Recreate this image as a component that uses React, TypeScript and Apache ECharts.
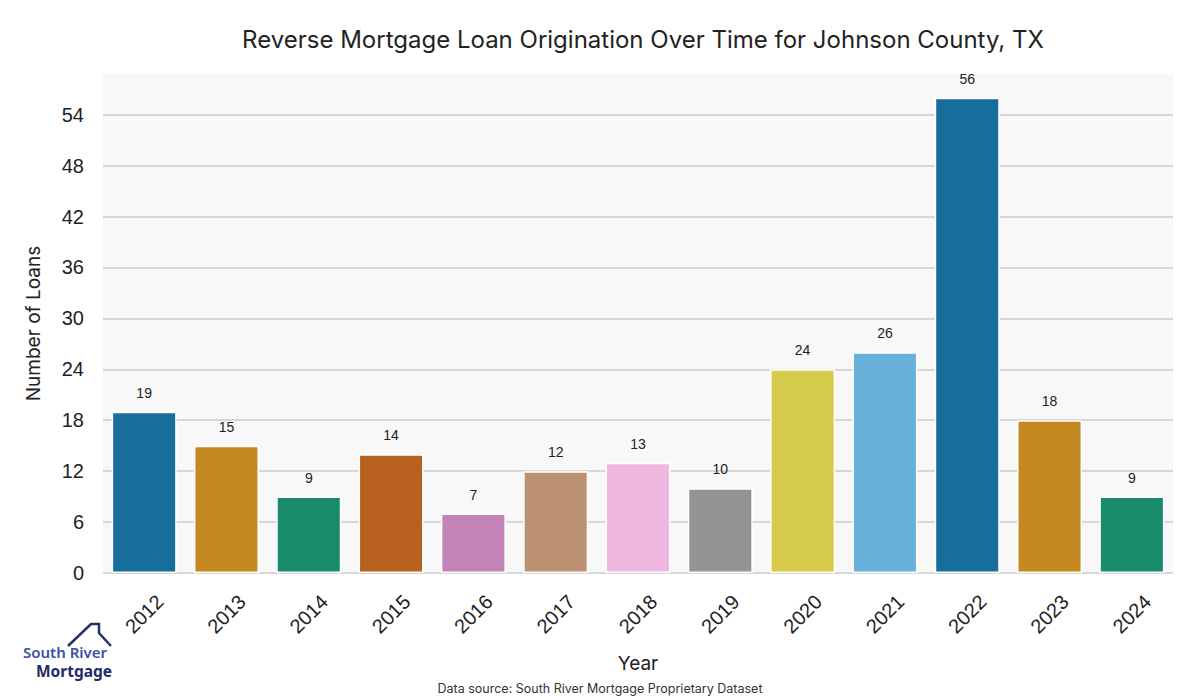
import React, { useEffect, useRef } from "react";
import * as echarts from "echarts";

const years = ["2012", "2013", "2014", "2015", "2016", "2017", "2018", "2019", "2020", "2021", "2022", "2023", "2024"];
const loans = [19, 15, 9, 14, 7, 12, 13, 10, 24, 26, 56, 18, 9];
const barColors = ["#176d9c", "#c38820", "#178b6a", "#b8611e", "#c283b6", "#bc9171", "#f0b8e0", "#949494", "#d6cb4a", "#66b0da", "#176d9c", "#c38820", "#178b6a"];
const yTicks = [0, 6, 12, 18, 24, 30, 36, 42, 48, 54];
const yMax = 58.8;

export default function App() {
  const ref = useRef<HTMLDivElement>(null);
  useEffect(() => {
    const chart = echarts.init(ref.current!, null, { renderer: "svg" });
    const splitColors = yTicks.map(() => "#cccccc").concat(["rgba(0,0,0,0)"]);
    chart.setOption({
      animation: false,
      backgroundColor: "#ffffff",
      title: {
        text: "Reverse Mortgage Loan Origination Over Time for Johnson County, TX",
        left: 638,
        top: 22,
        textAlign: "center",
        textStyle: { fontFamily: "Inter", fontSize: 24, fontWeight: "normal", color: "#222" },
      },
      grid: {
        left: 103, right: 27, top: 74, bottom: 127,
        show: true, backgroundColor: "#f8f8f8", borderWidth: 0, borderColor: "#f8f8f8",
      },
      xAxis: {
        type: "category",
        data: years,
        name: "Year",
        nameLocation: "middle",
        nameGap: 81,
        nameTextStyle: { fontFamily: "Inter", fontSize: 19, color: "#222" },
        axisLine: { show: false, onZero: false },
        axisTick: { show: false },
        splitLine: { show: false },
        splitArea: { show: false },
        axisLabel: {
          rotate: 45, align: "center", verticalAlign: "middle",
          fontFamily: "Liberation Sans", fontSize: 20, color: "#222", margin: 41,
        },
      },
      yAxis: {
        type: "value",
        min: 0,
        max: yMax,
        interval: 6,
        name: "Number of Loans",
        nameLocation: "middle",
        nameGap: 60,
        nameTextStyle: { fontFamily: "Inter", fontSize: 19, color: "#222" },
        axisLine: { show: false, onZero: false },
        axisTick: { show: false },
        splitArea: { show: false },
        axisLabel: {
          fontFamily: "Liberation Sans",
          fontSize: 20,
          color: "#222",
          margin: 19,
          showMaxLabel: false,
          formatter: (v: number) => (yTicks.includes(v) ? String(v) : ""),
        },
        splitLine: { show: true, lineStyle: { color: splitColors, width: 1.5, type: "solid" } },
      },
      series: [
        {
          type: "bar",
          barWidth: "79%",
          data: loans.map((v, i) => ({ value: v, itemStyle: { color: barColors[i] } })),
          itemStyle: { borderColor: "#ffffff", borderWidth: 1.5 },
          label: { show: true, position: "top", distance: 12, fontFamily: "Liberation Sans", fontSize: 14, color: "#222" },
        },
      ],
      graphic: [
        {
          type: "text",
          left: "center",
          top: 682,
          style: { text: "Data source: South River Mortgage Proprietary Dataset", fontFamily: "Inter", fontSize: 12.5, fill: "#333" },
        },
        {
          type: "polyline",
          shape: { points: [[68, 646], [91, 624], [99, 624], [99, 633], [111, 646]] },
          style: { stroke: "#27306b", lineWidth: 2.5, fill: null },
        },
        {
          type: "text",
          x: 23,
          y: 644,
          style: { text: "South River", fontFamily: "Noto Sans", fontSize: 15, lineHeight: 15, fontWeight: 600, fill: "#3b51a3", textVerticalAlign: "top" },
        },
        {
          type: "text",
          x: 36,
          y: 663,
          style: { text: "Mortgage", fontFamily: "Noto Sans", fontSize: 15.5, lineHeight: 15, fontWeight: "bold", fill: "#232c66", textVerticalAlign: "top" },
        },
      ],
    });
    return () => chart.dispose();
  }, []);
  return <div ref={ref} style={{ width: 1200, height: 700, position: "absolute", left: 0, top: 0 }} />;
}
